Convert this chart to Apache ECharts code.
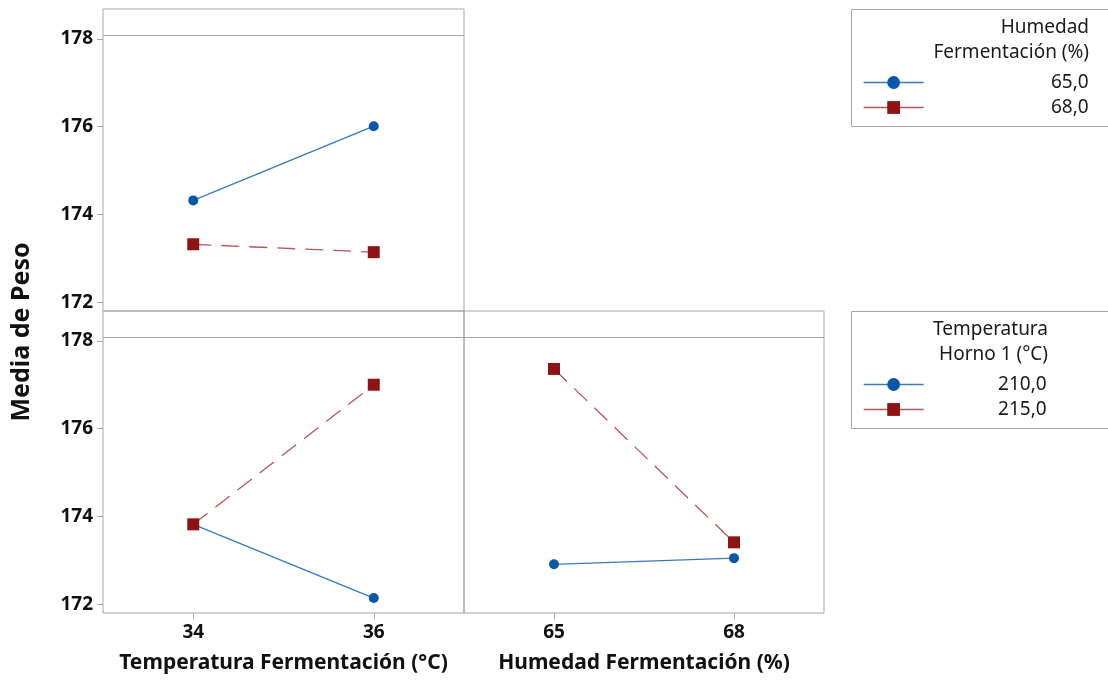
<!DOCTYPE html>
<html>
<head>
<meta charset="utf-8">
<script src="https://cdn.jsdelivr.net/npm/echarts@6/dist/echarts.min.js"></script>
<style>
html,body{margin:0;padding:0;background:#fff;}
#chart{width:1108px;height:683px;}
</style>
</head>
<body>
<div id="chart"></div>
<script>
// ---- data ----
const tempFermCats = ['34', '36'];
const humedadCats = ['65', '68'];
const yTicks = [172, 174, 176, 178];
const humedadLevels = ['65,0', '68,0'];
const hornoLevels = ['210,0', '215,0'];
// top-left: Temperatura Fermentación x Humedad
const tl_h65 = [174.32, 176.01];
const tl_h68 = [173.32, 173.14];
// bottom-left: Temperatura Fermentación x Temperatura Horno
const bl_t210 = [173.82, 172.14];
const bl_t215 = [173.82, 177.00];
// bottom-right: Humedad x Temperatura Horno
const br_t210 = [172.91, 173.05];
const br_t215 = [177.36, 173.41];
const headerLineValue = 178.08;

const FONT = 'Noto Sans';
const BLUE = '#0a56a8', BLUE_L = '#3a78c0';
const RED = '#8c1414', RED_L = '#b85555';
const GRIDC = '#a6a6a6';

function xAxis(gi, cats, showLabels, name) {
  return {
    type: 'category', gridIndex: gi, data: cats, boundaryGap: true,
    axisLine: {show: false},
    axisTick: {show: showLabels, alignWithLabel: true, length: 6, lineStyle: {color: GRIDC}},
    axisLabel: {show: showLabels, fontFamily: FONT, fontWeight: 'bold', fontSize: 19, color: '#111', margin: 10},
    name: name || '', nameLocation: 'middle', nameGap: 40,
    nameTextStyle: {fontFamily: FONT, fontWeight: 'bold', fontSize: 21, color: '#111'},
    splitLine: {show: false}
  };
}
function yAxis(gi, showLabels) {
  return {
    type: 'value', gridIndex: gi, min: 171.8, max: 178.68,
    axisLine: {show: false},
    axisTick: {show: showLabels, length: 6, customValues: yTicks, lineStyle: {color: GRIDC}},
    axisLabel: {show: showLabels, customValues: yTicks, fontFamily: FONT, fontWeight: 'bold', fontSize: 19, color: '#111', margin: 10},
    splitLine: {show: false}
  };
}
function header() {
  return {silent: true, symbol: 'none', label: {show: false},
    lineStyle: {color: GRIDC, type: 'solid', width: 1}, data: [{yAxis: headerLineValue}]};
}
function blueSeries(name, gi, data, withHeader) {
  const s = {name, type: 'line', xAxisIndex: gi, yAxisIndex: gi, data,
    symbol: 'circle', symbolSize: 10, itemStyle: {color: BLUE},
    lineStyle: {color: BLUE_L, width: 1.3, type: 'solid'}, animation: false};
  if (withHeader) s.markLine = header();
  return s;
}
function redSeries(name, gi, data) {
  return {name, type: 'line', xAxisIndex: gi, yAxisIndex: gi, data,
    symbol: 'rect', symbolSize: 12, itemStyle: {color: RED},
    lineStyle: {color: RED_L, width: 1.3, type: [18, 10]}, animation: false};
}
function legend(top, data, width) {
  return {
    left: 858, top: top, orient: 'vertical', data: data,
    itemWidth: 60, itemHeight: 16, itemGap: 6,
    lineStyle: {type: 'solid', width: 1.3},
    formatter: '{a|{name}}',
    textStyle: {fontFamily: FONT, fontSize: 19, color: '#1a1a1a',
      rich: {a: {width: width, align: 'right', lineHeight: 20, fontFamily: FONT, fontSize: 19, color: '#1a1a1a'}}},
    selectedMode: false
  };
}

const chart = echarts.init(document.getElementById('chart'), null, {renderer: 'canvas'});
chart.setOption({
  backgroundColor: '#fff',
  animation: false,
  grid: [
    {left: 103, top: 9, width: 361, height: 302, show: true, borderColor: GRIDC, borderWidth: 1, backgroundColor: 'transparent'},
    {left: 103, top: 311, width: 361, height: 302, show: true, borderColor: GRIDC, borderWidth: 1, backgroundColor: 'transparent'},
    {left: 464, top: 311, width: 360, height: 302, show: true, borderColor: GRIDC, borderWidth: 1, backgroundColor: 'transparent'}
  ],
  xAxis: [
    xAxis(0, tempFermCats, false),
    xAxis(1, tempFermCats, true, 'Temperatura Fermentación (°C)'),
    xAxis(2, humedadCats, true, 'Humedad Fermentación (%)')
  ],
  yAxis: [yAxis(0, true), yAxis(1, true), yAxis(2, false)],
  legend: [
    legend(68, humedadLevels, 160),
    legend(370, hornoLevels, 118)
  ],
  graphic: [
    {type: 'rect', shape: {x: 851.5, y: 9.5, width: 270, height: 117}, style: {fill: 'none', stroke: GRIDC, lineWidth: 1}, silent: true},
    {type: 'rect', shape: {x: 851.5, y: 311.5, width: 270, height: 117}, style: {fill: 'none', stroke: GRIDC, lineWidth: 1}, silent: true},
    {type: 'text', x: 1089, y: 15, style: {text: 'Humedad\nFermentación (%)', align: 'right', lineHeight: 25, font: '19px "Noto Sans"', fill: '#1a1a1a'}},
    {type: 'text', x: 1048, y: 317, style: {text: 'Temperatura\nHorno 1 (°C)', align: 'right', lineHeight: 25, font: '19px "Noto Sans"', fill: '#1a1a1a'}},
    {type: 'text', x: 22, y: 332, rotation: Math.PI / 2, style: {text: 'Media de Peso', align: 'center', verticalAlign: 'middle', font: 'bold 25px "Noto Sans"', fill: '#111'}}
  ],
  series: [
    blueSeries(humedadLevels[0], 0, tl_h65, true),
    redSeries(humedadLevels[1], 0, tl_h68),
    blueSeries(hornoLevels[0], 1, bl_t210, true),
    redSeries(hornoLevels[1], 1, bl_t215),
    blueSeries(hornoLevels[0], 2, br_t210, true),
    redSeries(hornoLevels[1], 2, br_t215)
  ]
});
</script>
</body>
</html>
